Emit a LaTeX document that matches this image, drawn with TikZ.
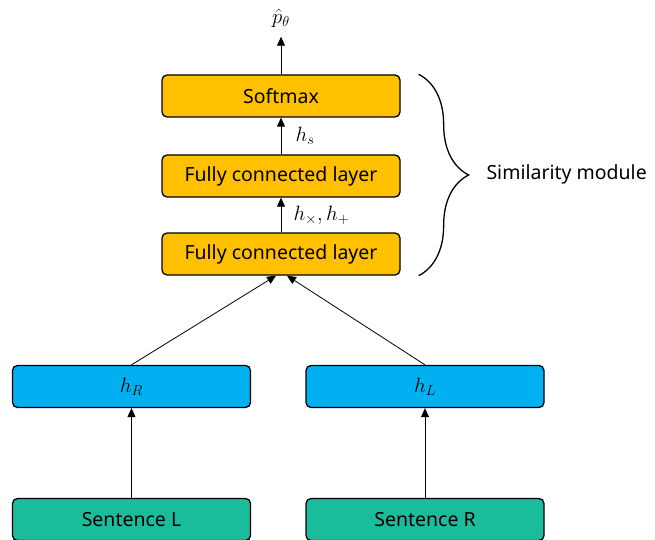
\documentclass[tikz,border=0pt]{standalone}
\usepackage{amsmath,amssymb}
\usepackage{fontspec}
\setmainfont{Noto Sans}
\usepackage{tikz}
\usetikzlibrary{positioning,arrows.meta,decorations.pathreplacing}

\definecolor{fcgold}{RGB}{255,192,0}
\definecolor{encblue}{RGB}{0,176,240}
\definecolor{sentteal}{RGB}{27,188,156}

\begin{document}
\begin{tikzpicture}[x=1pt,y=1pt,every node/.style={on grid,node distance=78pt},
    txt/.style={font=\fontsize{19.5}{22}\selectfont},
    mtxt/.style={font=\fontsize{22}{24}\selectfont},
    box/.style={txt,draw,line width=1.3pt,rounded corners=5pt,minimum width=238pt,minimum height=42pt},
    fc/.style={box,fill=fcgold},
    enc/.style={box,mtxt,fill=encblue},
    sent/.style={box,fill=sentteal},
    flow/.style={-{Triangle[length=9pt,width=8pt]},line width=0.8pt}]
    \useasboundingbox (0,0) rectangle (655,539);
    \node[fc] (fcA) at (281,285) {Fully connected layer};
    \node[fc,above=of fcA] (fcB) {Fully connected layer};
    \node[fc,above=80pt of fcB] (soft) {Softmax};
    \node[mtxt,above=78pt of soft] (out) {$\hat{p}_\theta$};
    \node[enc] (hR) at (131.5,152.5) {$h_R$};
    \node[enc,right=293.5pt of hR] (hL) {$h_L$};
    \node[sent,below=133pt of hR] (sentL) {Sentence L};
    \node[sent,below=133pt of hL] (sentR) {Sentence R};
    \draw[flow] (sentL) -- (hR);
    \draw[flow] (sentR) -- (hL);
    \draw[flow] (hR.north) -- ([xshift=-5pt]fcA.south);
    \draw[flow] (hL.north) -- ([xshift=6pt]fcA.south);
    \draw[flow] (fcA) -- node[mtxt,right=9pt] {$h_\times, h_+$} (fcB);
    \draw[flow] (fcB) -- node[mtxt,right=11pt] {$h_s$} (soft);
    \draw[flow] (soft) -- ([yshift=-6pt]out.south);
    % brace round the similarity module
    \coordinate (braceTop) at ([xshift=18pt]soft.north east);
    \coordinate (braceBot) at ([xshift=18pt]fcA.south east);
    \draw[line width=1.3pt,decorate,decoration={brace,amplitude=50pt}] (braceTop) -- (braceBot);
    \node[txt,anchor=west] (simLabel) at (483,365) {Similarity module};
\end{tikzpicture}
\end{document}
